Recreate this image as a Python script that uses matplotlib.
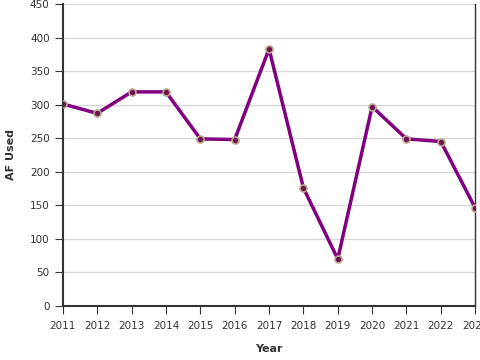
import matplotlib
matplotlib.use("Agg")
import matplotlib.pyplot as plt

years = [2011, 2012, 2013, 2014, 2015, 2016, 2017, 2018, 2019, 2020, 2021, 2022, 2023]
af_used = [301, 287, 319, 319, 249, 248, 383, 176, 70, 297, 249, 245, 146]

fig = plt.figure(figsize=(4.8, 3.6), dpi=100)
ax = fig.add_axes([0.131, 0.15, 0.859, 0.839])
ax.plot(years, af_used, color="#800080", lw=2.5, zorder=3,
        marker="o", markersize=5, markerfacecolor="#6b1050",
        markeredgecolor="#b8a58a", markeredgewidth=1.2)
ax.set_xlim(2011, 2023)
ax.set_ylim(0, 450)
ax.set_xticks(years)
ax.set_yticks(range(0, 451, 50))
ax.grid(axis="y", color="#d8d8d8", lw=1)
ax.set_axisbelow(True)
ax.spines["top"].set_visible(False)
for s in ["left", "bottom"]:
    ax.spines[s].set_linewidth(1.5)
    ax.spines[s].set_color("#333333")
ax.spines["right"].set_linewidth(1)
ax.spines["right"].set_color("#333333")
ax.tick_params(labelsize=7.5, colors="#333333", length=6)
ax.tick_params(axis="x", pad=5)
ax.set_xlabel("Year", fontsize=8, fontweight="bold", color="#333333", labelpad=9)
ax.set_ylabel("AF Used", fontsize=8, fontweight="bold", color="#333333", labelpad=10)
for lbl in ax.get_xticklabels():
    lbl.set_clip_on(False)
fig.savefig("out.png", dpi=100)
